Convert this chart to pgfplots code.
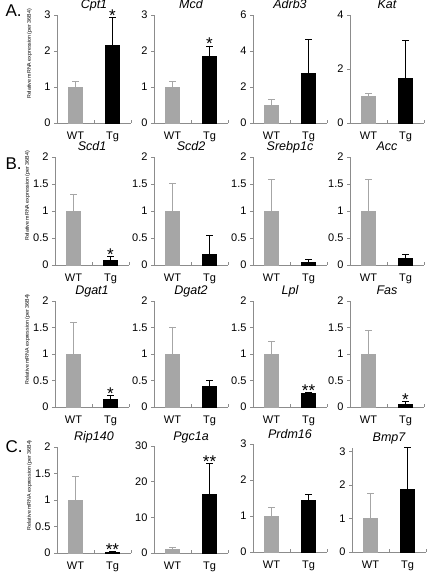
\documentclass[border=0pt]{standalone}
\usepackage{fontspec}
\setmainfont{Liberation Sans}
\usepackage{pgfplots}
\pgfplotsset{compat=1.18}
\definecolor{axgray}{HTML}{8C8C8C}
\definecolor{wtgray}{HTML}{A6A6A6}
\pgfplotsset{
 pan/.style={
  scale only axis, width=74pt, height=107pt, anchor=south west,
  xmin=-0.5, xmax=1.5, ymin=0, clip=false,
  axis x line*=bottom, axis y line*=left,
  axis line style={draw=axgray, line width=0.8pt, -},
  every tick/.style={draw=axgray, line width=0.8pt},
  major tick length=3pt,
  xtick={0.5,1.5}, xticklabels={,,}, xtick align=inside,
  ytick align=outside,
  extra x ticks={0,1}, extra x tick labels={WT,Tg},
  extra x tick style={major tick length=0pt},
  tick label style={font=\fontsize{11}{13}\selectfont},
  x tick label style={yshift=-5.5pt},
  /pgf/number format/assume math mode=true,
  title style={font=\fontsize{12.5}{14}\selectfont\itshape, at={(axis description cs:0.5,1)}, anchor=base, yshift=0pt},
  ylabel style={font=\fontsize{5.3}{6}\selectfont, at={(axis description cs:-0.37,0.64)}, anchor=center},
 },
 wt/.style={ybar, bar shift=0pt, bar width=14pt, fill=wtgray, draw=wtgray, line width=0.4pt,
   error bars/.cd, y dir=plus, y explicit,
   error bar style={draw=wtgray, line width=0.8pt, solid},
   error mark options={rotate=90, draw=wtgray, line width=0.8pt, mark size=3.5pt}},
 tg/.style={ybar, bar shift=0pt, bar width=14pt, fill=black, draw=black, line width=0.4pt,
   error bars/.cd, y dir=plus, y explicit,
   error bar style={draw=black, line width=0.8pt, solid},
   error mark options={rotate=90, draw=black, line width=0.8pt, mark size=3.5pt}},
}
\tikzset{sig/.style={font=\fontsize{17}{17}\selectfont, anchor=base, inner sep=0pt, yshift=-4pt}}
\begin{document}
\begin{tikzpicture}[x=1pt,y=1pt]
\useasboundingbox (0,0) rectangle (430,577);
\node[anchor=base west, font=\fontsize{17}{17}\selectfont] at (2,560) {A.};
\node[anchor=base west, font=\fontsize{17}{17}\selectfont] at (2,407) {B.};
\node[anchor=base west, font=\fontsize{17}{17}\selectfont] at (2,124) {C.};
% Row A
\begin{axis}[pan, at={(57pt,454pt)}, height=108pt, ymax=3, ytick={0,1,2,3}, title={Cpt1}, ylabel={Relative mRNA expression (per 36B4)}]
\addplot[wt] coordinates {(0,1) +- (0,0.15)};
\addplot[tg] coordinates {(1,2.15) +- (0,0.78)};
\node[sig] at (axis cs:1,2.93) {*};
\end{axis}
\begin{axis}[pan, at={(154pt,454pt)}, height=108pt, ymax=3, ytick={0,1,2,3}, title={Mcd}]
\addplot[wt] coordinates {(0,1) +- (0,0.16)};
\addplot[tg] coordinates {(1,1.85) +- (0,0.29)};
\node[sig] at (axis cs:1,2.14) {*};
\end{axis}
\begin{axis}[pan, at={(253pt,454pt)}, height=108pt, ymax=6, ytick={0,2,4,6}, title={Adrb3}]
\addplot[wt] coordinates {(0,1) +- (0,0.32)};
\addplot[tg] coordinates {(1,2.78) +- (0,1.85)};
\end{axis}
\begin{axis}[pan, at={(350pt,454pt)}, height=108pt, ymax=4, ytick={0,2,4}, title={Kat}]
\addplot[wt] coordinates {(0,1) +- (0,0.08)};
\addplot[tg] coordinates {(1,1.67) +- (0,1.38)};
\end{axis}
% Row B
\begin{axis}[pan, at={(55pt,312pt)}, height=108pt, ymax=2, ytick={0,0.5,1,1.5,2}, title={Scd1}, ylabel={Relative mRNA expression (per 36B4)}]
\addplot[wt] coordinates {(0,1) +- (0,0.31)};
\addplot[tg] coordinates {(1,0.09) +- (0,0.06)};
\node[sig] at (axis cs:1,0.15) {*};
\end{axis}
\begin{axis}[pan, at={(154pt,312pt)}, height=108pt, ymax=2, ytick={0,0.5,1,1.5,2}, title={Scd2}]
\addplot[wt] coordinates {(0,1) +- (0,0.52)};
\addplot[tg] coordinates {(1,0.2) +- (0,0.35)};
\end{axis}
\begin{axis}[pan, at={(253pt,312pt)}, height=108pt, ymax=2, ytick={0,0.5,1,1.5,2}, title={Srebp1c}]
\addplot[wt] coordinates {(0,1) +- (0,0.58)};
\addplot[tg] coordinates {(1,0.06) +- (0,0.05)};
\end{axis}
\begin{axis}[pan, at={(350pt,312pt)}, height=108pt, ymax=2, ytick={0,0.5,1,1.5,2}, title={Acc}]
\addplot[wt] coordinates {(0,1) +- (0,0.58)};
\addplot[tg] coordinates {(1,0.12) +- (0,0.08)};
\end{axis}
% Row B2
\begin{axis}[pan, at={(55pt,170pt)}, height=106pt, ymax=2, ytick={0,0.5,1,1.5,2}, title={Dgat1}, ylabel={Relative mRNA expression (per 36B4)}]
\addplot[wt] coordinates {(0,1) +- (0,0.6)};
\addplot[tg] coordinates {(1,0.15) +- (0,0.07)};
\node[sig] at (axis cs:1,0.22) {*};
\end{axis}
\begin{axis}[pan, at={(154pt,170pt)}, height=106pt, ymax=2, ytick={0,0.5,1,1.5,2}, title={Dgat2}]
\addplot[wt] coordinates {(0,1) +- (0,0.51)};
\addplot[tg] coordinates {(1,0.4) +- (0,0.1)};
\end{axis}
\begin{axis}[pan, at={(253pt,170pt)}, height=106pt, ymax=2, ytick={0,0.5,1,1.5,2}, title={Lpl}]
\addplot[wt] coordinates {(0,1) +- (0,0.24)};
\addplot[tg] coordinates {(1,0.26) +- (0,0.02)};
\node[sig] at (axis cs:1,0.28) {**};
\end{axis}
\begin{axis}[pan, at={(350pt,170pt)}, height=106pt, ymax=2, ytick={0,0.5,1,1.5,2}, title={Fas}]
\addplot[wt] coordinates {(0,1) +- (0,0.45)};
\addplot[tg] coordinates {(1,0.06) +- (0,0.05)};
\node[sig] at (axis cs:1,0.11) {*};
\end{axis}
% Row C
\begin{axis}[pan, at={(57pt,24pt)}, height=106pt, ymax=2, ytick={0,0.5,1,1.5,2}, title={Rip140}, ylabel={Relative mRNA expression (per 36B4)}]
\addplot[wt] coordinates {(0,1) +- (0,0.44)};
\addplot[tg] coordinates {(1,0.02) +- (0,0.01)};
\node[sig] at (axis cs:1,0.03) {**};
\end{axis}
\begin{axis}[pan, at={(154pt,24pt)}, height=107pt, ymax=30, ytick={0,10,20,30}, title={Pgc1a}]
\addplot[wt] coordinates {(0,1.0) +- (0,0.5)};
\addplot[tg] coordinates {(1,16.6) +- (0,8.6)};
\node[sig] at (axis cs:1,25.2) {**};
\end{axis}
\begin{axis}[pan, at={(253pt,25pt)}, height=108pt, ymax=3, ytick={0,1,2,3}, title={Prdm16}]
\addplot[wt] coordinates {(0,1) +- (0,0.23)};
\addplot[tg] coordinates {(1,1.44) +- (0,0.16)};
\end{axis}
\begin{axis}[pan, at={(352pt,25pt)}, height=104pt, ymax=3.1, ytick={0,1,2,3}, title={Bmp7}]
\addplot[wt] coordinates {(0,1) +- (0,0.76)};
\addplot[tg] coordinates {(1,1.86) +- (0,1.26)};
\end{axis}
\end{tikzpicture}
\end{document}
